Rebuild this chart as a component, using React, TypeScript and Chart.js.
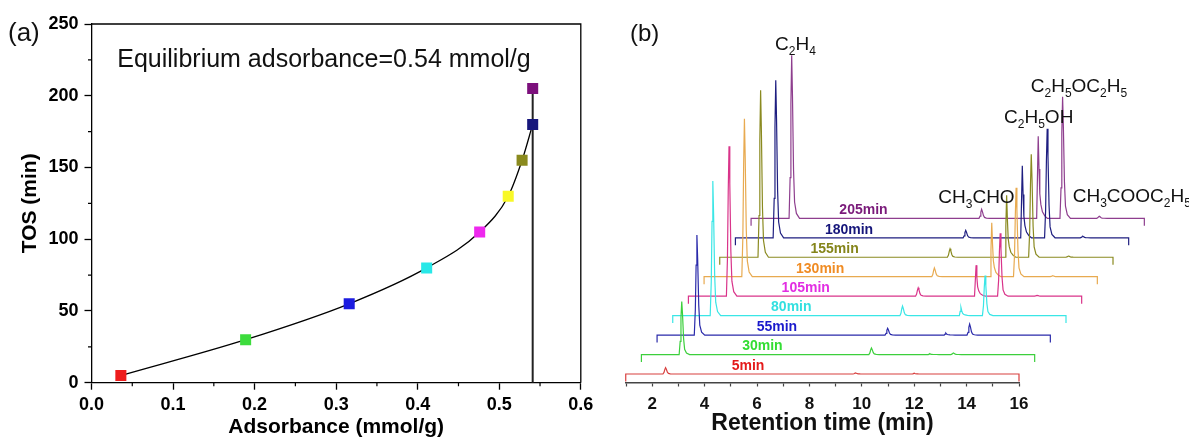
import React, { useEffect, useRef } from 'react';
import { Chart, registerables } from 'chart.js';

Chart.register(...registerables);

const FONT = '"Liberation Sans", Arial, Helvetica, sans-serif';

// ---------- Panel (a) data ----------
const ADSORBANCE = [0.036, 0.189, 0.316, 0.411, 0.476, 0.511, 0.528, 0.541, 0.541];
const TOS = [5, 30, 55, 80, 105, 130, 155, 180, 205];
const POINT_COLORS = ['#ee1c1c', '#3ddc3d', '#1c1ce0', '#28e8e8', '#ee28ee', '#f8f828', '#8a8a1e', '#16167c', '#7c107c'];
const EQUILIBRIUM_ADS = 0.541;
const EQUILIBRIUM_TEXT = 'Equilibrium adsorbance=0.54 mmol/g';

// ---------- Panel (b) data ----------
const SAMPLE_LABELS = ['5min', '30min', '55min', '80min', '105min', '130min', '155min', '180min', '205min'];
const TRACE_COLORS = ['#d8403f', '#3ccf3c', '#2a2aaa', '#3ae6e6', '#d9348a', '#e8aa50', '#8a8a20', '#1e1e80', '#8e3e8e'];
const LABEL_COLORS = ['#e41a1a', '#33dd33', '#1a1acc', '#33e0e0', '#e22ee2', '#f08c24', '#85851a', '#15157a', '#7a1a7a'];

// retention time (local, min) and height of each peak, per trace
const C2H4_T = [2.51, 2.53, 2.51, 2.52, 2.54, 2.53, 2.55, 2.53, 2.54];
const C2H4_H = [6.3, 53, 100, 134.5, 150, 158, 167, 157.5, 163];
const CH3CHO_T = [9.76, 9.77, 9.79, 9.76, 9.76, 9.78, 9.78, 9.78, 9.79];
const CH3CHO_H = [1, 6.5, 6.8, 9.5, 8.3, 8.7, 8.4, 7.3, 9];
const C2H5OH_T = [12.0, 12.0, 12.01, 11.99, 11.97, 11.97, 11.94, 11.94, 11.95];
const C2H5OH_H = [0.8, 0.8, 2, 8.3, 31, 54, 62, 72, 82];
const ETHER_T = [12.9, 12.9, 12.92, 12.91, 12.89, 12.9, 12.88, 12.89, 12.88];
const ETHER_H = [0, 1.5, 11, 40, 63, 89, 103, 109, 121.6];
const ACETATE_T = [14.3, 14.3, 14.3, 14.3, 14.3, 14.3, 14.3, 14.25, 14.28];
const ACETATE_H = [0, 0, 0, 0, 0.8, 1, 1.2, 1.5, 2];

// peak shapes: [time offset (min), fraction of height]
const SHARP_PROFILE = [[-0.1, 0], [-0.06, 0.25], [-0.03, 0.7], [0, 1], [0.03, 0.75], [0.07, 0.3], [0.11, 0.1], [0.18, 0.03], [0.3, 0]];
const TAIL_PROFILE = [[-0.06, 0], [-0.03, 0.5], [0, 1], [0.03, 0.6], [0.06, 0.3], [0.1, 0.17], [0.16, 0.08], [0.25, 0.03], [0.35, 0]];

const T_START = 0.99;
const T_END = 16.0;
const BRACKET = 7.5;
const BASE_Y = 8.5;
const SHIFT_T = 0.598;
const SHIFT_Y = 19.46;
const LABEL_T0 = 5.656;
const LABEL_DT = 0.551;
const LABEL_DY = 8;
const AXIS_MIN_T = 1;
const AXIS_MAX_T = 16;

const COMPOUNDS = [
  { text: 'C_2H_4', t: 6.69, y: 332.5 },
  { text: 'C_2H_5OC_2H_5', t: 16.45, y: 290.5 },
  { text: 'C_2H_5OH', t: 15.43, y: 259.5 },
  { text: 'CH_3CHO', t: 12.92, y: 180 },
  { text: 'CH_3COOC_2H_5', t: 18.05, y: 180.8 },
];

function buildTrace(k: number) {
  const dx = k * SHIFT_T;
  const y0 = BASE_Y + k * SHIFT_Y;
  const pts: { x: number; y: number }[] = [
    { x: T_START + dx, y: y0 - BRACKET },
    { x: T_START + dx, y: y0 },
  ];
  const peaks: [number, number, number[][]][] = [
    [C2H4_T[k], C2H4_H[k], SHARP_PROFILE],
    [CH3CHO_T[k], CH3CHO_H[k], SHARP_PROFILE],
    [C2H5OH_T[k], C2H5OH_H[k], TAIL_PROFILE],
    [ETHER_T[k], ETHER_H[k], SHARP_PROFILE],
    [ACETATE_T[k], ACETATE_H[k], SHARP_PROFILE],
  ];
  peaks
    .filter((p) => p[1] > 0)
    .sort((a, b) => a[0] - b[0])
    .forEach(([t, h, prof]) => {
      prof.forEach(([dt, f]) => pts.push({ x: t + dt + dx, y: y0 + f * h }));
    });
  pts.push({ x: T_END + dx, y: y0 }, { x: T_END + dx, y: y0 - BRACKET });
  return pts;
}

function drawFormula(ctx: CanvasRenderingContext2D, text: string, x: number, y: number) {
  let cx = x;
  ctx.textBaseline = 'alphabetic';
  ctx.textAlign = 'left';
  for (let i = 0; i < text.length; i++) {
    const ch = text[i];
    if (ch === '_') {
      const s = text[i + 1];
      ctx.font = `12px ${FONT}`;
      ctx.fillText(s, cx, y + 5);
      cx += ctx.measureText(s).width;
      i++;
    } else {
      ctx.font = `19px ${FONT}`;
      ctx.fillText(ch, cx, y);
      cx += ctx.measureText(ch).width;
    }
  }
}

function LeftChart() {
  const ref = useRef<HTMLCanvasElement>(null);
  useEffect(() => {
    const isMinorX = (v: number) => Math.round(v * 20) % 2 === 1;
    const isMinorY = (v: number) => Math.round(v / 25) % 2 === 1;
    const plugin = {
      id: 'panelA',
      afterDraw(chart: any) {
        const { ctx, chartArea: a, scales } = chart;
        ctx.save();
        ctx.strokeStyle = '#000';
        ctx.lineWidth = 1.3;
        ctx.beginPath();
        ctx.moveTo(a.left, a.top);
        ctx.lineTo(a.right, a.top);
        ctx.lineTo(a.right, a.bottom);
        ctx.stroke();
        // minor ticks
        ctx.lineWidth = 1.2;
        ctx.beginPath();
        scales.x.ticks.forEach((t: any) => {
          if (isMinorX(t.value)) {
            const px = scales.x.getPixelForValue(t.value);
            ctx.moveTo(px, a.bottom);
            ctx.lineTo(px, a.bottom + 3.5);
          }
        });
        scales.y.ticks.forEach((t: any) => {
          if (isMinorY(t.value)) {
            const py = scales.y.getPixelForValue(t.value);
            ctx.moveTo(a.left, py);
            ctx.lineTo(a.left - 3.5, py);
          }
        });
        ctx.stroke();
        ctx.fillStyle = '#111';
        ctx.font = `25px ${FONT}`;
        ctx.textBaseline = 'alphabetic';
        ctx.textAlign = 'left';
        ctx.fillText(EQUILIBRIUM_TEXT, scales.x.getPixelForValue(0.0316), scales.y.getPixelForValue(220.2));
        ctx.font = `26px ${FONT}`;
        ctx.textBaseline = 'middle';
        ctx.fillText('(a)', 8, 33.5);
        ctx.restore();
      },
    };
    const chart = new Chart(ref.current!, {
      type: 'scatter',
      data: {
        datasets: [
          {
            data: ADSORBANCE.map((x, i) => ({ x, y: TOS[i] })),
            pointStyle: 'rect',
            pointRadius: 7.8,
            pointBorderWidth: 0,
            backgroundColor: POINT_COLORS,
            borderWidth: 0,
          },
          {
            data: ADSORBANCE.slice(0, 8).map((x, i) => ({ x, y: TOS[i] })),
            showLine: true,
            borderColor: '#000',
            borderWidth: 1.3,
            pointRadius: 0,
            cubicInterpolationMode: 'monotone',
          },
          {
            data: [
              { x: EQUILIBRIUM_ADS, y: 0 },
              { x: EQUILIBRIUM_ADS, y: TOS[8] },
            ],
            showLine: true,
            borderColor: '#222',
            borderWidth: 2,
            pointRadius: 0,
          },
        ] as any,
      },
      options: {
        animation: false,
        responsive: false,
        layout: { padding: { left: 0, right: 19.2, top: 24, bottom: 0 } },
        plugins: { legend: { display: false }, tooltip: { enabled: false } },
        scales: {
          x: {
            type: 'linear',
            min: 0,
            max: 0.6,
            afterFit: (s: any) => {
              s.height = 54.3;
            },
            ticks: {
              stepSize: 0.05,
              autoSkip: false,
              maxRotation: 0,
              padding: 4.5,
              color: '#000',
              font: { family: FONT, size: 18, weight: 'bold' },
              callback: (v: any) => (isMinorX(Number(v)) ? '' : (Math.round(Number(v) * 10) / 10).toFixed(1)),
            },
            grid: {
              drawOnChartArea: false,
              tickLength: 7,
              tickWidth: 1.3,
              tickColor: (c: any) => (c.tick && isMinorX(c.tick.value) ? 'rgba(0,0,0,0)' : '#000'),
            },
            border: { color: '#000', width: 1.3 },
            title: {
              display: true,
              text: 'Adsorbance (mmol/g)',
              color: '#000',
              font: { family: FONT, size: 21, weight: 'bold', lineHeight: 0.9 },
              padding: { top: 0, bottom: 0 },
            },
          },
          y: {
            type: 'linear',
            min: 0,
            max: 250,
            afterFit: (s: any) => {
              s.width = 91.5;
            },
            ticks: {
              stepSize: 25,
              autoSkip: false,
              padding: 6,
              color: '#000',
              font: { family: FONT, size: 18, weight: 'bold' },
              callback: (v: any) => (isMinorY(Number(v)) ? '' : String(v)),
            },
            grid: {
              drawOnChartArea: false,
              tickLength: 7,
              tickWidth: 1.3,
              tickColor: (c: any) => (c.tick && isMinorY(c.tick.value) ? 'rgba(0,0,0,0)' : '#000'),
            },
            border: { color: '#000', width: 1.3 },
            title: {
              display: true,
              text: 'TOS (min)',
              color: '#000',
              font: { family: FONT, size: 21, weight: 'bold', lineHeight: 1.2 },
              padding: { top: 17.4, bottom: 0 },
            },
          },
        },
      } as any,
      plugins: [plugin],
    });
    return () => chart.destroy();
  }, []);
  return <canvas ref={ref} width={600} height={437} style={{ position: 'absolute', left: 0, top: 0 }} />;
}

function RightChart() {
  const ref = useRef<HTMLCanvasElement>(null);
  useEffect(() => {
    const plugin = {
      id: 'panelB',
      afterDraw(chart: any) {
        const { ctx, scales } = chart;
        const sx = scales.x;
        const sy = scales.y;
        ctx.save();
        ctx.font = `bold 14px ${FONT}`;
        ctx.textAlign = 'center';
        ctx.textBaseline = 'middle';
        SAMPLE_LABELS.forEach((lab, k) => {
          ctx.fillStyle = LABEL_COLORS[k];
          ctx.fillText(
            lab,
            sx.getPixelForValue(LABEL_T0 + k * LABEL_DT),
            sy.getPixelForValue(BASE_Y + k * SHIFT_Y + LABEL_DY)
          );
        });
        ctx.fillStyle = '#111';
        COMPOUNDS.forEach((c) => drawFormula(ctx, c.text, sx.getPixelForValue(c.t), sy.getPixelForValue(c.y)));
        ctx.font = `24px ${FONT}`;
        ctx.textAlign = 'left';
        ctx.textBaseline = 'middle';
        ctx.fillText('(b)', 30, 34);
        ctx.restore();
      },
    };
    const chart = new Chart(ref.current!, {
      type: 'line',
      data: {
        datasets: SAMPLE_LABELS.map((lab, k) => ({
          label: lab,
          data: buildTrace(k),
          borderColor: TRACE_COLORS[k],
          borderWidth: 1.2,
          pointRadius: 0,
          tension: 0,
          clip: false,
          fill: false,
        })) as any,
      },
      options: {
        animation: false,
        responsive: false,
        layout: { padding: { left: 26, right: 170, top: 20, bottom: 0 } },
        plugins: { legend: { display: false }, tooltip: { enabled: false } },
        scales: {
          x: {
            type: 'linear',
            // range set after data limits so that shifted traces beyond 16 min are still drawn
            afterDataLimits: (s: any) => {
              s.min = AXIS_MIN_T;
              s.max = AXIS_MAX_T;
            },
            afterFit: (s: any) => {
              s.height = 54.5;
            },
            ticks: {
              stepSize: 1,
              autoSkip: false,
              maxRotation: 0,
              padding: 7.3,
              color: '#111',
              font: { family: FONT, size: 17, weight: 'bold' },
              callback: (v: any) => (Math.round(Number(v)) % 2 === 0 ? String(v) : ''),
            },
            grid: { drawOnChartArea: false, tickLength: 4, tickWidth: 1.2, tickColor: '#444' },
            border: { color: '#444', width: 1.5 },
            title: {
              display: true,
              text: 'Retention time (min)',
              color: '#111',
              font: { family: FONT, size: 23, weight: 'bold', lineHeight: 1.2 },
              padding: { top: 0, bottom: 0 },
            },
          },
          y: { type: 'linear', display: false, min: 0, max: 362.5 },
        },
      } as any,
      plugins: [plugin],
    });
    return () => chart.destroy();
  }, []);
  return <canvas ref={ref} width={589} height={437} style={{ position: 'absolute', left: 600, top: 0 }} />;
}

export default function App() {
  return (
    <div style={{ position: 'absolute', left: 0, top: 0, width: 1189, height: 437, background: '#fff', overflow: 'hidden' }}>
      <LeftChart />
      <RightChart />
    </div>
  );
}
